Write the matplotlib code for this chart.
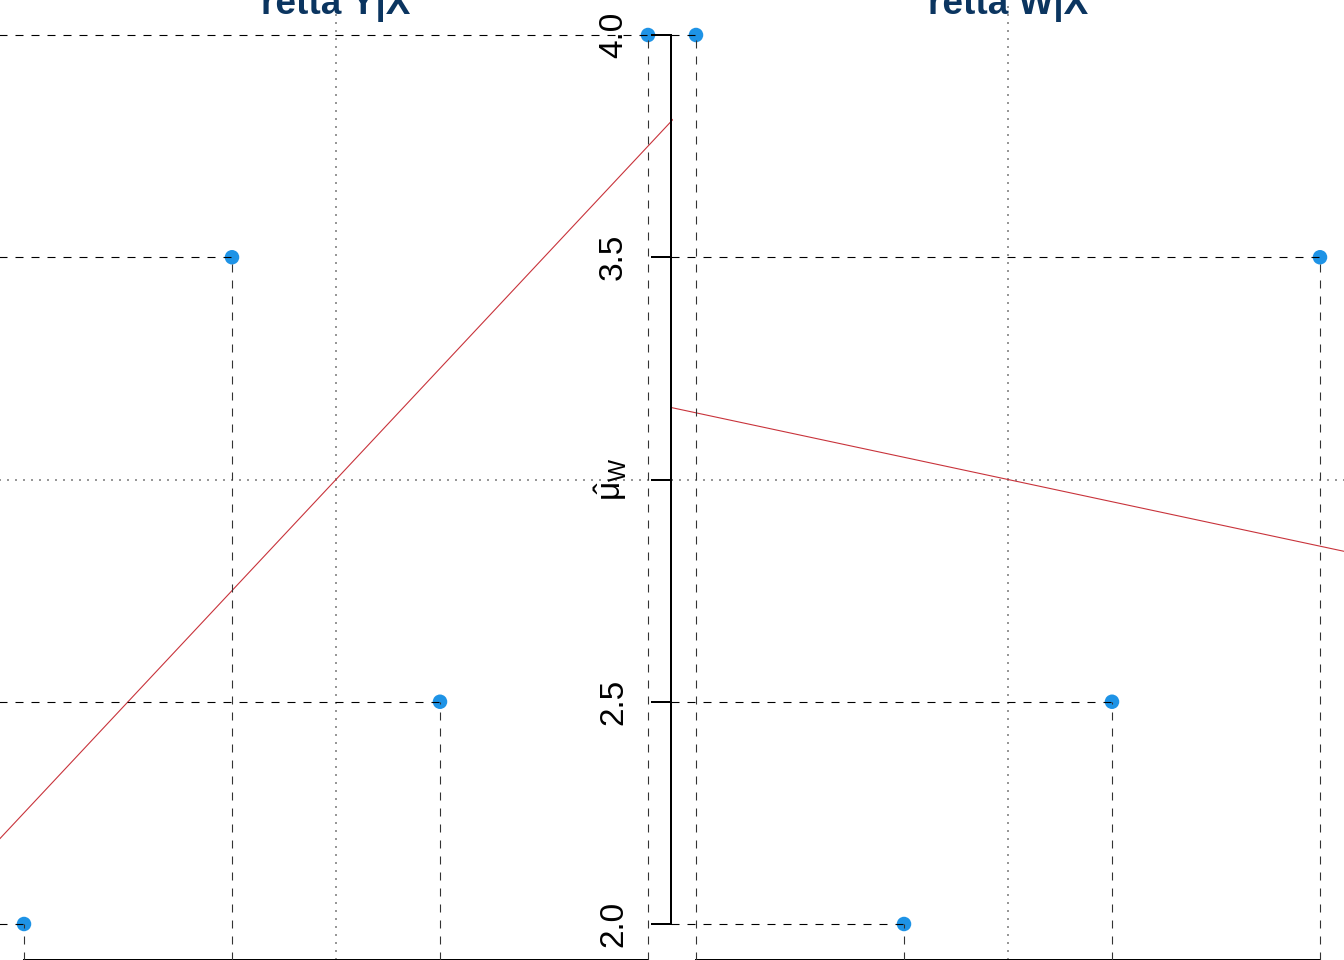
import numpy as np
import matplotlib
matplotlib.use("Agg")
import matplotlib.pyplot as plt

plt.rcParams['font.family'] = ['Liberation Sans', 'DejaVu Sans']
plt.rcParams['mathtext.fontset'] = 'custom'
plt.rcParams['mathtext.rm'] = 'Liberation Sans'
plt.rcParams['mathtext.it'] = 'Liberation Sans'
plt.rcParams['lines.scale_dashes'] = False

# ---- data ----
x_vals = [1, 2, 3, 4]
y_vals = [2.0, 3.5, 2.5, 4.0]
w_vals = [4.0, 2.0, 2.5, 3.5]
titles = ["retta Y|X", "retta W|X"]
ytick_vals = [2.0, 2.5, 3.0, 3.5, 4.0]
ytick_labels_Y = ["2.0", "2.5", r"$\hat{\mathrm{\mu}}_{\mathrm{Y}}$", "3.5", "4.0"]
ytick_labels_W = ["2.0", "2.5", r"$\hat{\mathrm{\mu}}_{\mathrm{W}}$", "3.5", "4.0"]
xtick_vals = [1, 2, 3, 4]
xtick_labels = ["1", "2", "3", "4"]

W, H = 1344, 960
fig = plt.figure(figsize=(W / 100, H / 100), dpi=100)

PT = 0.72  # points per pixel
BLUE = '#1E93E6'
RED = '#C8323A'
NAVY = '#0B3560'
GRAY = '#777777'


def make_panel(left_px, series, ylabels, title):
    ax = fig.add_axes([left_px / W, 0.44 / H, 673.92 / W, 960.12 / H])
    ax.set_facecolor('none')
    xmin, xmax = 0.88, 4.12
    ymin, ymax = 1.92, 4.08
    ax.set_xlim(xmin, xmax)
    ax.set_ylim(ymin, ymax)
    for s in ['top', 'right']:
        ax.spines[s].set_visible(False)
    ax.spines['left'].set_bounds(2, 4)
    ax.spines['bottom'].set_bounds(1, 4)
    for s in ['left', 'bottom']:
        ax.spines[s].set_linewidth(2 * PT)
    ax.set_yticks(ytick_vals)
    ax.set_yticklabels(ylabels, rotation=90, va='center')
    ax.set_xticks(xtick_vals)
    ax.set_xticklabels(xtick_labels)
    ax.tick_params(axis='both', length=20 * PT, width=2 * PT, labelsize=24, pad=22 * PT)

    xs = np.array(x_vals, dtype=float)
    ys = np.array(series, dtype=float)
    xm, ym = xs.mean(), ys.mean()
    slope, icpt = np.polyfit(xs, ys, 1)

    ax.axvline(xm, color=GRAY, lw=1.5 * PT, linestyle=(0, (2 * PT, 6 * PT)), zorder=1)
    ax.axhline(ym, color=GRAY, lw=1.5 * PT, linestyle=(0, (2 * PT, 6 * PT)), zorder=1)
    ax.axline((0, icpt), slope=slope, color=RED, lw=1.1 * PT, zorder=2)

    ax.scatter(xs, ys, s=(14.5 * PT) ** 2, color=BLUE, edgecolors='none', zorder=3)
    ax.hlines(ys, xmin, xs, colors='black', lw=1.1 * PT,
              linestyles=[(0, (8 * PT, 8 * PT))], zorder=4)
    ax.vlines(xs, ymin, ys, colors='#333333', lw=1.1 * PT,
              linestyles=[(0, (8 * PT, 8 * PT))], zorder=4)

    cx = (left_px + 673.92 / 2) / W
    fig.text(cx, (H - 14) / H, title, ha='center', va='baseline',
             fontsize=26.6, fontweight='bold', color=NAVY)
    return ax


make_panel(-0.96, y_vals, ytick_labels_Y, titles[0])
make_panel(671.04, w_vals, ytick_labels_W, titles[1])

fig.savefig("out.png", dpi=100)
